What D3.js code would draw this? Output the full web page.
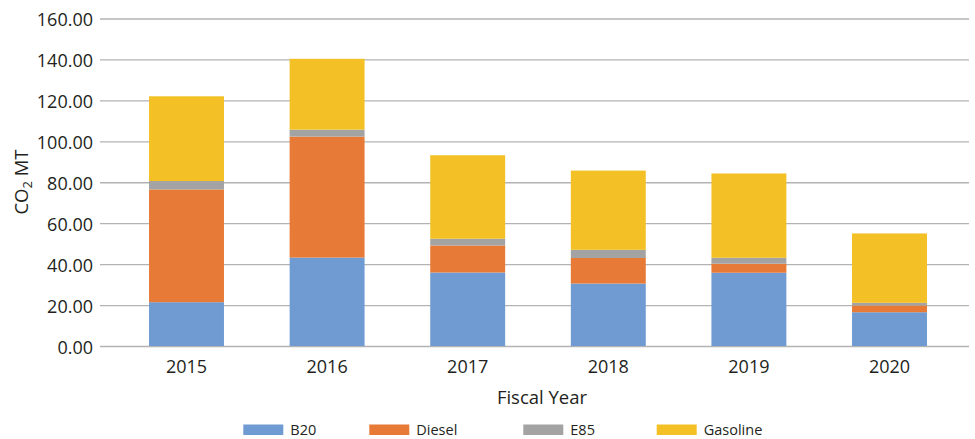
<!DOCTYPE html>
<html>
<head>
<meta charset="utf-8">
<script src="https://cdn.jsdelivr.net/npm/d3@7"></script>
<style>
  html, body { margin: 0; padding: 0; background: #fff; }
  svg text { font-family: "Open Sans", sans-serif; fill: #231f20; }
</style>
</head>
<body>
<div class="chart"></div>
<script>
// data
const years = ["2015", "2016", "2017", "2018", "2019", "2020"]
const fuels = ["B20", "Diesel", "E85", "Gasoline"]
const b20 = [21.4, 43.2, 35.9, 30.5, 35.8, 16.5]
const diesel = [55.1, 59.1, 13.2, 12.5, 4.4, 3.3]
const e85 = [4.1, 3.4, 3.3, 4.0, 2.9, 1.3]
const gasoline = [41.4, 34.6, 40.8, 38.7, 41.2, 33.9]
const yTicks = [0, 20, 40, 60, 80, 100, 120, 140, 160]

const colors = ["#6f9bd2", "#e67a36", "#a3a3a3", "#f3c126"]

const width = 975
const height = 439

const svg = d3.select(".chart")
  .append("svg")
  .attr("width", width)
  .attr("height", height)

// rows for the stack
const rows = years.map((y, i) => ({
  year: y, B20: b20[i], Diesel: diesel[i], E85: e85[i], Gasoline: gasoline[i]
}))
const series = d3.stack().keys(fuels)(rows)

const y = d3.scaleLinear().domain([0, 160]).range([346, 18.5])
const x = d3.scaleBand()
  .domain(years)
  .range([116.2, 959.8])
  .paddingInner(0.467)
  .paddingOuter(0.2335)

const color = d3.scaleOrdinal().domain(fuels).range(colors)

// gridlines + y labels
const gridLeft = 100, gridRight = 969
const yAxis = svg.append("g")
  .attr("transform", `translate(${gridLeft},0)`)
  .call(d3.axisLeft(y).tickValues(yTicks).tickSize(-(gridRight - gridLeft)).tickPadding(7)
    .tickFormat(d3.format(".2f")))
yAxis.select(".domain").remove()
yAxis.selectAll(".tick line").attr("stroke", "#b3b3b3").attr("stroke-width", 1.3)
yAxis.selectAll(".tick text")
  .attr("font-size", 18).attr("dy", "0.4em").attr("fill", "#231f20")
  .style("font-family", "'Open Sans', sans-serif")

// stacked bars
svg.append("g")
  .selectAll("g")
  .data(series)
  .join("g")
    .attr("fill", d => color(d.key))
  .selectAll("rect")
  .data(d => d)
  .join("rect")
    .attr("x", d => x(d.data.year))
    .attr("y", d => y(d[1]))
    .attr("height", d => y(d[0]) - y(d[1]))
    .attr("width", x.bandwidth())

// x labels
const xAxis = svg.append("g")
  .attr("transform", "translate(0,346)")
  .call(d3.axisBottom(x).tickSize(0).tickPadding(14))
xAxis.select(".domain").remove()
xAxis.selectAll(".tick text")
  .attr("font-size", 18).attr("fill", "#231f20")
  .style("font-family", "'Open Sans', sans-serif")

// axis titles
svg.append("text")
  .attr("x", 542).attr("y", 404)
  .attr("text-anchor", "middle")
  .attr("font-size", 18.5)
  .text("Fiscal Year")

const yt = svg.append("text")
  .attr("transform", "translate(28,182) rotate(-90)")
  .attr("text-anchor", "middle")
  .attr("font-size", 18.5)
yt.append("tspan").text("CO")
yt.append("tspan").attr("font-size", 13).attr("dy", 4).text("2")
yt.append("tspan").attr("dy", -4).text(" MT")

// legend
const legendX = [243.3, 369.3, 523.3, 656.7]
const legend = svg.append("g")
  .selectAll("g")
  .data(fuels)
  .join("g")
    .attr("transform", (d, i) => `translate(${legendX[i]},424.5)`)
legend.append("rect")
  .attr("width", 40).attr("height", 10.5)
  .attr("fill", d => color(d))
legend.append("text")
  .attr("x", 47).attr("y", 10.5)
  .attr("font-size", 14.5)
  .text(d => d)
</script>
</body>
</html>
